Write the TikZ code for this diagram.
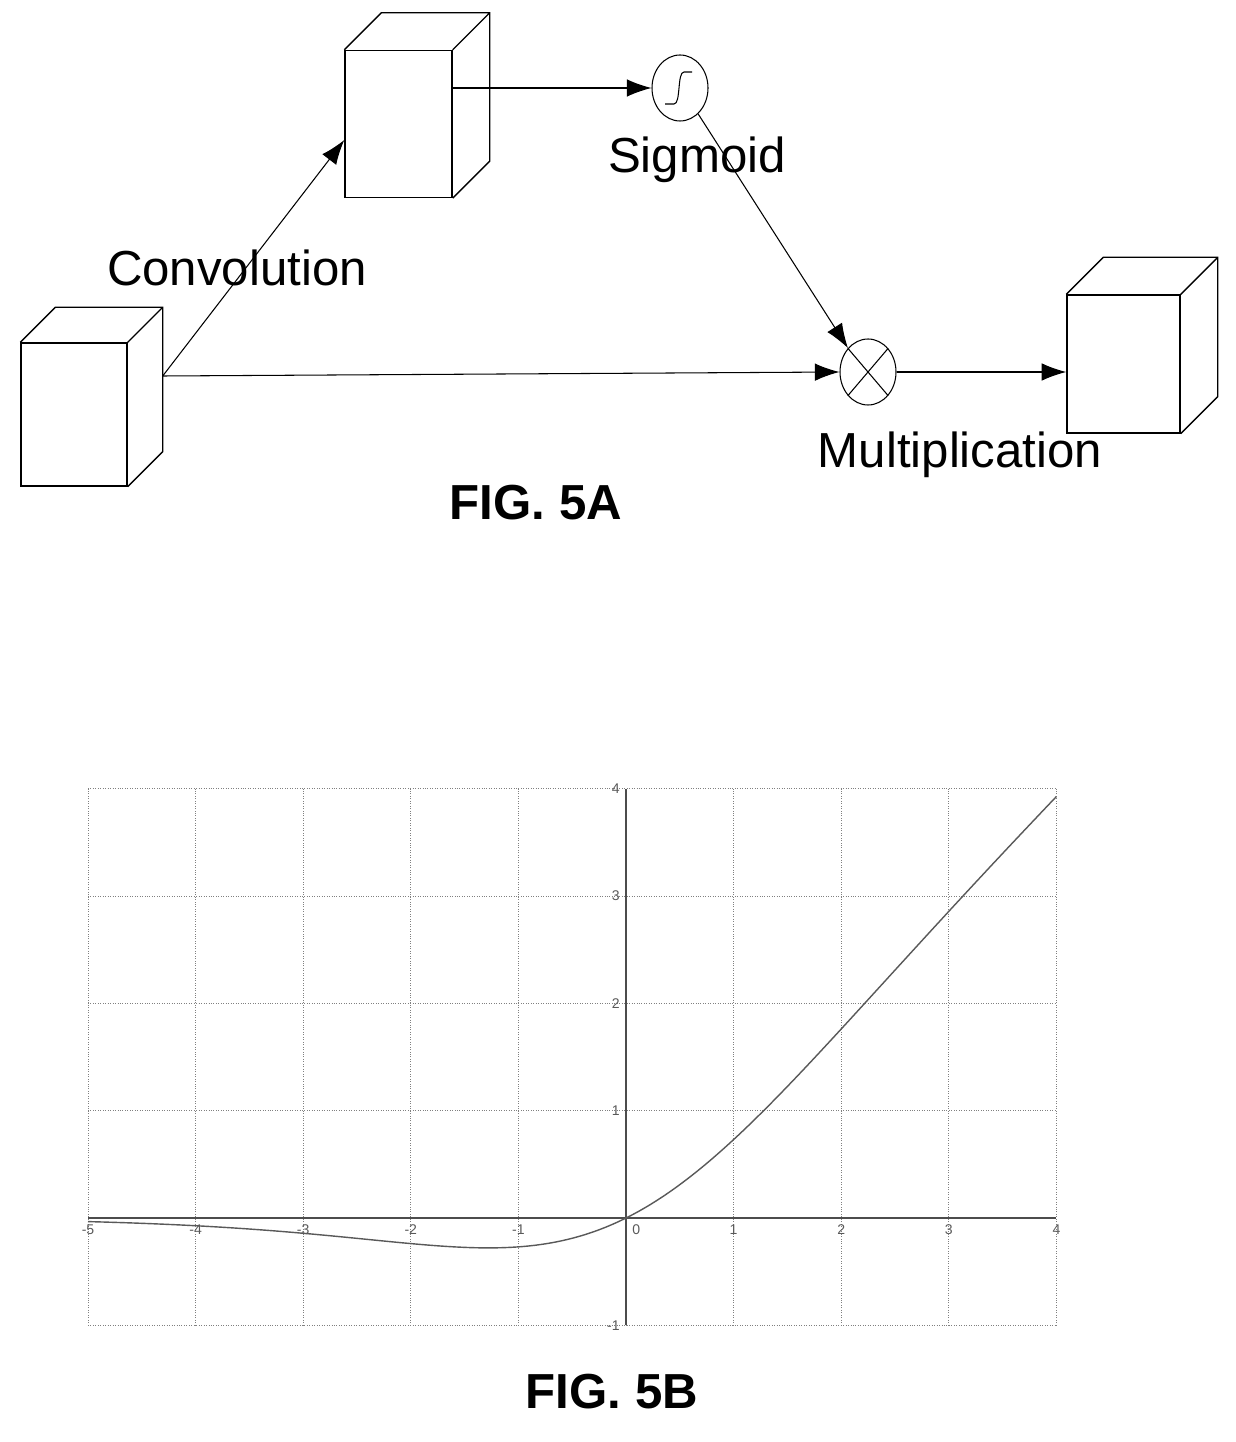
\documentclass[tikz,border=0pt]{standalone}
\usepackage{fontspec}
\setmainfont{Liberation Sans}
\usetikzlibrary{arrows.meta}
\usetikzlibrary{positioning}
\usetikzlibrary{shapes.geometric}
\usetikzlibrary{calc}

% box drawn as a front face plus its depth
\newcommand{\featbox}[6]{%
  \node[front, minimum width=#4*0.02cm, minimum height=#5*0.02cm] (#1) at (#2,#3) {};
  \draw[thick] (#1.north west) -- ++(#6*0.02cm,#6*0.02cm) -| ($(#1.south east)+(#6*0.02cm,#6*0.02cm)$) -- (#1.south east)
               (#1.north east) -- ++(#6*0.02cm,#6*0.02cm);
}

\begin{document}
\begin{tikzpicture}[x=0.02cm,y=-0.02cm,>={Latex[length=14pt,width=10pt]},semithick]
\tikzset{front/.style={draw,thick,rectangle,inner sep=0pt},
         op/.style={draw,ellipse,minimum width=56*0.02cm,minimum height=66*0.02cm,inner sep=0pt},
         lbl/.style={font=\fontsize{28}{30}\selectfont},
         fig/.style={font=\fontsize{28}{30}\selectfont\bfseries},
         grid line/.style={gray,densely dotted,thin},
         tick/.style={font=\fontsize{8}{9}\selectfont,gray!70!black}}
\useasboundingbox (0,0) rectangle (1235,1442);

% FIG. 5A
\featbox{inp}{74}{414.5}{106}{143}{35}
\featbox{conv}{398.5}{124}{107}{147}{37}
\featbox{outp}{1123.5}{364}{113}{138}{37}
\node[op] (sig) at (680,88) {};
\draw ($(sig)+(-15,16)$) -- ++(9,0) .. controls ++(7,0) and ++(-7,0) .. ++(10,-32) -- ++(8,0);
\node[op] (mult) at (868,372) {};
\draw (mult.north west) -- (mult.south east) (mult.north east) -- (mult.south west);
\coordinate (split) at ($(inp.east |- 0,376)+(35,0)$);

\draw[->] (split) -- (conv.west |- 0,140);
\draw[->] (split) -- (mult.west);
\draw[->] (conv.east |- sig) -- (sig.west);
\draw[->] (sig.-55) -- (mult.130);
\draw[->] (mult.east) -- (outp.west |- mult.east);

\node[lbl] (convlbl) at (237,268) {Convolution};
\node[lbl] (siglbl) at (697,160) {Sigmoid};
\node[lbl] (multlbl) at (960,455) {Multiplication};
\node[fig] (figa) at (536,503) {FIG. 5A};

% FIG. 5B
\begin{scope}[shift={(626,1218)},x=107.6*0.02cm,y=107.3*0.02cm]
  \foreach \i in {-5,...,4} \draw[grid line] (\i,-1) -- (\i,4);
  \foreach \j in {-1,...,4} \draw[grid line] (-5,\j) -- (4,\j);
  \draw[gray!60!black] (-5,0) -- (4,0) (0,-1) -- (0,4);
  \foreach \i in {-5,-4,-3,-2,-1,1,2,3,4} \node[tick,below] at (\i,0) {\i};
  \node[tick,below right] at (0,0) {0};
  \foreach \j in {-1,1,2,3,4} \node[tick,left] at (0,\j) {\j};
  \draw[gray!70!black,thick,domain=-5:4,samples=120,smooth] plot (\x,{\x/(1+exp(-\x))});
\end{scope}
\node[fig] (figb) at (612,1392) {FIG. 5B};
\end{tikzpicture}
\end{document}
